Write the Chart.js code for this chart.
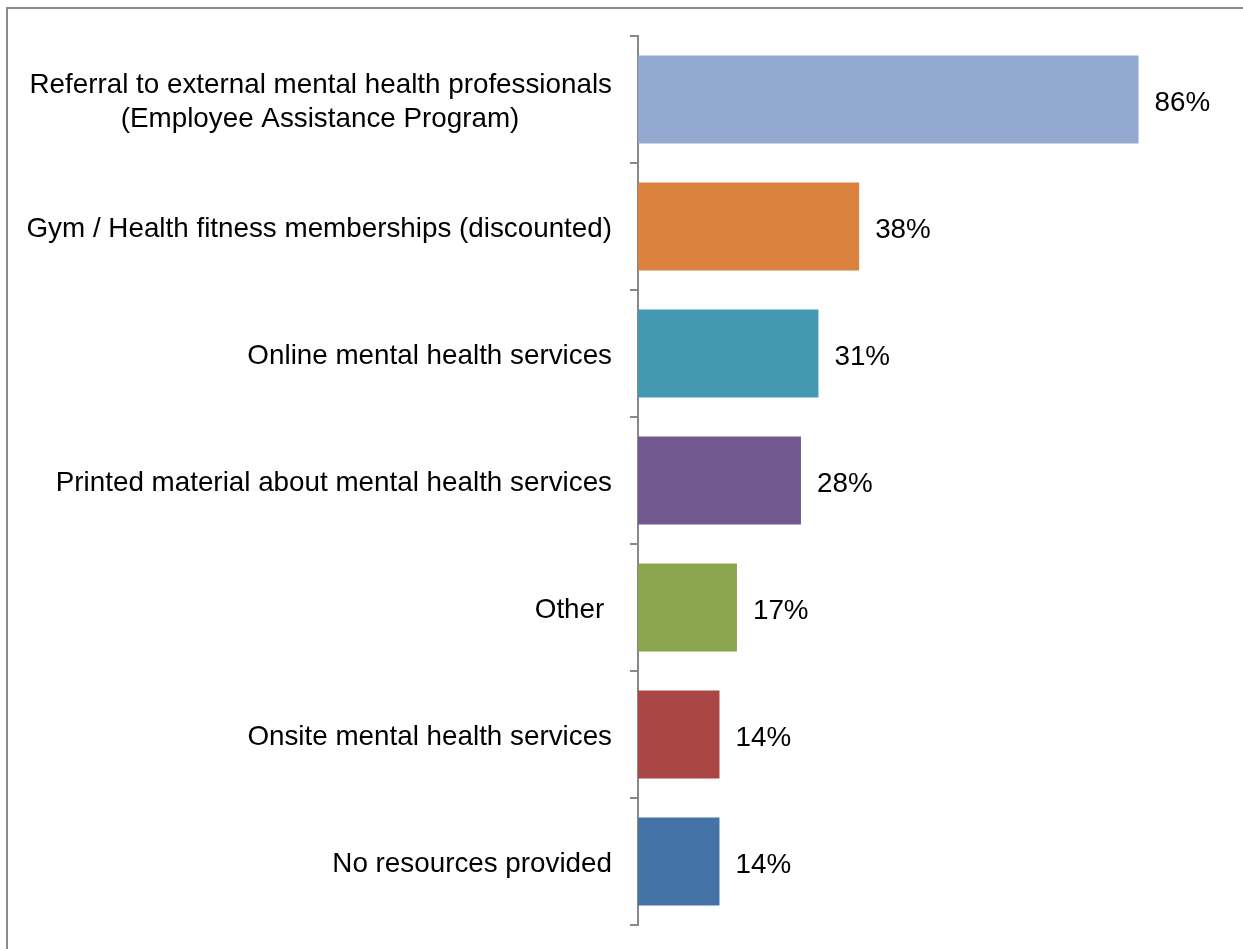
<!DOCTYPE html>
<html lang="en">
<head>
    <meta charset="UTF-8">
    <title>Mental health resources provided</title>
    <script src="https://cdn.jsdelivr.net/npm/chart.js"></script>
    <style>
        html, body {
            margin: 0;
            padding: 0;
            background: #fff;
            overflow: hidden;
        }
        .frame {
            position: absolute;
            left: 6px;
            top: 7px;
            width: 1400px;
            height: 1100px;
            border: 2px solid #8c8c8c;
        }
        #resourcesChart {
            position: absolute;
            left: 0;
            top: 0;
        }
    </style>
</head>
<body>
    <div class="frame"></div>
    <canvas id="resourcesChart" width="1243" height="949"></canvas>
    <script>
        const categories = [
            ['Referral to external mental health professionals', '(Employee Assistance Program)            '],
            'Gym / Health fitness memberships (discounted)',
            'Online mental health services',
            'Printed material about mental health services',
            'Other ',
            'Onsite mental health services',
            'No resources provided'
        ];
        const values = [86, 38, 31, 28, 17, 14, 14];
        const barColors = ['#94A9D0', '#DC8240', '#4399AF', '#71588F', '#89A54E', '#AA4643', '#4572A7'];

        // draws the "86%" style labels just right of each bar
        const valueLabels = {
            id: 'valueLabels',
            afterDatasetsDraw(chart) {
                const c = chart.ctx;
                const meta = chart.getDatasetMeta(0);
                c.save();
                c.font = '27.8px "Liberation Sans", Arial, sans-serif';
                c.fillStyle = '#000';
                c.textAlign = 'left';
                c.textBaseline = 'middle';
                meta.data.forEach((bar, i) => {
                    c.fillText(values[i] + '%', bar.x + 16, bar.y + 4);
                });
                c.restore();
            }
        };

        const ctx = document.getElementById('resourcesChart').getContext('2d');
        new Chart(ctx, {
            type: 'bar',
            data: {
                labels: categories,
                datasets: [{
                    data: values,
                    backgroundColor: barColors,
                    borderWidth: 0,
                    categoryPercentage: 1,
                    barPercentage: 0.693
                }]
            },
            options: {
                indexAxis: 'y',
                responsive: false,
                animation: false,
                devicePixelRatio: 1,
                layout: {
                    padding: { top: 36, bottom: 24, left: 0, right: 23 }
                },
                plugins: {
                    legend: { display: false },
                    tooltip: { enabled: false }
                },
                scales: {
                    x: {
                        display: false,
                        min: 0,
                        max: 100
                    },
                    y: {
                        offset: true,
                        afterFit(scale) {
                            scale.width = 638;
                            scale.paddingTop = 0;
                            scale.paddingBottom = 0;
                        },
                        border: {
                            display: true,
                            color: '#888',
                            width: 2
                        },
                        grid: {
                            offset: true,
                            drawOnChartArea: false,
                            drawTicks: true,
                            tickLength: 8,
                            color: '#888',
                            lineWidth: 2
                        },
                        ticks: {
                            padding: 18,
                            labelOffset: 3,
                            color: '#000',
                            autoSkip: false,
                            font: {
                                family: '"Liberation Sans", Arial, sans-serif',
                                size: 27.8,
                                lineHeight: 1.2
                            }
                        }
                    }
                }
            },
            plugins: [valueLabels]
        });
    </script>
</body>
</html>
